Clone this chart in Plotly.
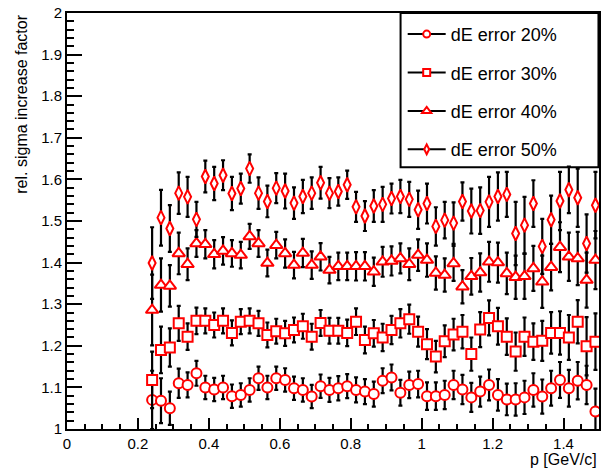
import plotly.graph_objects as go

# ---- data ----
p = [0.24, 0.265, 0.29, 0.315, 0.34, 0.365, 0.39, 0.415, 0.44, 0.465,
     0.49, 0.515, 0.54, 0.565, 0.59, 0.615, 0.64, 0.665, 0.69, 0.715,
     0.74, 0.765, 0.79, 0.815, 0.84, 0.865, 0.89, 0.915, 0.94, 0.965,
     0.99, 1.015, 1.04, 1.065, 1.09, 1.115, 1.14, 1.165, 1.19, 1.215,
     1.24, 1.265, 1.29, 1.315, 1.34, 1.365, 1.39, 1.415, 1.44, 1.465, 1.49]

err20 = [1.070, 1.068, 1.050, 1.110, 1.106, 1.134, 1.100, 1.095, 1.100, 1.079,
         1.082, 1.094, 1.122, 1.100, 1.122, 1.118, 1.098, 1.094, 1.078, 1.103,
         1.094, 1.098, 1.103, 1.094, 1.090, 1.084, 1.116, 1.124, 1.087, 1.106,
         1.108, 1.079, 1.079, 1.082, 1.106, 1.095, 1.076, 1.090, 1.106, 1.082,
         1.071, 1.071, 1.076, 1.094, 1.078, 1.098, 1.118, 1.098, 1.116, 1.106, 1.042]
err30 = [1.118, 1.190, 1.196, 1.254, 1.222, 1.260, 1.260, 1.250, 1.260, 1.231,
         1.258, 1.260, 1.254, 1.226, 1.235, 1.230, 1.238, 1.247, 1.222, 1.255,
         1.236, 1.236, 1.231, 1.258, 1.214, 1.230, 1.220, 1.238, 1.254, 1.264,
         1.234, 1.204, 1.174, 1.211, 1.227, 1.234, 1.180, 1.239, 1.267, 1.247,
         1.222, 1.186, 1.222, 1.210, 1.212, 1.231, 1.231, 1.220, 1.258, 1.199, 1.210]
err40 = [1.286, 1.346, 1.344, 1.422, 1.396, 1.446, 1.444, 1.420, 1.428, 1.422,
         1.418, 1.463, 1.446, 1.399, 1.442, 1.422, 1.394, 1.423, 1.394, 1.414,
         1.382, 1.391, 1.391, 1.391, 1.391, 1.378, 1.402, 1.404, 1.410, 1.396,
         1.418, 1.406, 1.375, 1.370, 1.398, 1.342, 1.367, 1.376, 1.402, 1.400,
         1.374, 1.365, 1.367, 1.386, 1.354, 1.389, 1.437, 1.414, 1.410, 1.358, 1.406]
err50 = [1.399, 1.508, 1.482, 1.567, 1.558, 1.504, 1.607, 1.590, 1.610, 1.566,
         1.578, 1.626, 1.567, 1.547, 1.579, 1.572, 1.543, 1.559, 1.567, 1.592,
         1.567, 1.571, 1.587, 1.534, 1.512, 1.536, 1.540, 1.554, 1.559, 1.552,
         1.527, 1.542, 1.487, 1.502, 1.495, 1.547, 1.524, 1.525, 1.546, 1.559,
         1.564, 1.470, 1.490, 1.542, 1.439, 1.503, 1.548, 1.575, 1.556, 1.446, 1.538]

unc20 = [0.070, 0.054, 0.040, 0.035, 0.030, 0.030, 0.028, 0.028, 0.028, 0.028,
         0.028, 0.028, 0.028, 0.028, 0.028, 0.028, 0.028, 0.028, 0.028, 0.028,
         0.029, 0.029, 0.029, 0.030, 0.030, 0.030, 0.030, 0.031, 0.031, 0.032,
         0.032, 0.033, 0.033, 0.034, 0.034, 0.035, 0.035, 0.036, 0.037, 0.038,
         0.038, 0.039, 0.040, 0.040, 0.041, 0.042, 0.043, 0.044, 0.045, 0.046, 0.055]
unc30 = [0.068, 0.056, 0.046, 0.042, 0.032, 0.032, 0.030, 0.030, 0.030, 0.030,
         0.030, 0.030, 0.030, 0.030, 0.030, 0.030, 0.030, 0.030, 0.031, 0.031,
         0.031, 0.031, 0.032, 0.032, 0.032, 0.032, 0.033, 0.034, 0.034, 0.035,
         0.036, 0.036, 0.038, 0.038, 0.038, 0.040, 0.040, 0.042, 0.042, 0.044,
         0.044, 0.046, 0.046, 0.044, 0.048, 0.050, 0.052, 0.054, 0.052, 0.070, 0.068]
unc40 = [0.085, 0.064, 0.050, 0.050, 0.038, 0.032, 0.034, 0.034, 0.033, 0.032,
         0.032, 0.030, 0.032, 0.032, 0.032, 0.034, 0.032, 0.034, 0.033, 0.033,
         0.032, 0.033, 0.033, 0.034, 0.034, 0.034, 0.036, 0.035, 0.036, 0.038,
         0.038, 0.040, 0.040, 0.040, 0.042, 0.040, 0.044, 0.046, 0.048, 0.048,
         0.050, 0.052, 0.054, 0.054, 0.063, 0.056, 0.060, 0.058, 0.064, 0.066, 0.070]
unc50 = [0.086, 0.067, 0.056, 0.050, 0.048, 0.042, 0.038, 0.040, 0.036, 0.040,
         0.036, 0.034, 0.038, 0.038, 0.036, 0.042, 0.038, 0.040, 0.038, 0.038,
         0.036, 0.034, 0.034, 0.036, 0.036, 0.038, 0.042, 0.036, 0.040, 0.042,
         0.046, 0.048, 0.046, 0.044, 0.050, 0.046, 0.054, 0.056, 0.060, 0.058,
         0.054, 0.076, 0.068, 0.056, 0.066, 0.058, 0.070, 0.056, 0.070, 0.070, 0.080]

labels = ["dE error 20%", "dE error 30%", "dE error 40%", "dE error 50%"]
values = [err20, err30, err40, err50]
uncert = [unc20, unc30, unc40, unc50]
symbols = ["circle", "square", "triangle-up", "diamond-tall"]
sizes = [10, 10, 11, 10]

RED = "#ff0000"
FONT = "Liberation Sans, Arial, Helvetica, sans-serif"

fig = go.Figure()

for lab, v, e, sym, sz in zip(labels, values, uncert, symbols, sizes):
    fig.add_trace(go.Scatter(
        x=p, y=v, mode="markers", showlegend=False,
        marker=dict(symbol=sym, size=sz, color="white",
                    line=dict(color=RED, width=2)),
        error_y=dict(type="data", array=e, visible=True,
                     color="black", thickness=2.2, width=2),
        hoverinfo="skip",
    ))

# legend entries (line + marker, no data drawn)
for i, (lab, sym, sz) in enumerate(zip(labels, symbols, sizes)):
    fig.add_trace(go.Scatter(
        x=[None], y=[None], mode="lines+markers", name=lab,
        legendgroup=f"g{i}",
        line=dict(color="black", width=2),
        marker=dict(symbol=sym, size=sz - 3, color="white",
                    line=dict(color=RED, width=2)),
    ))

axis_common = dict(
    showgrid=False, zeroline=False, showline=True, linecolor="black",
    linewidth=2, mirror=True, ticks="inside", tickcolor="black",
    tickwidth=2, tickfont=dict(family=FONT, size=15, color="black"),
)

fig.update_xaxes(range=[0, 1.5], dtick=0.2, tick0=0, ticklen=11,
                 minor=dict(ticks="inside", dtick=0.05, ticklen=5,
                            tickwidth=2, tickcolor="black"),
                 **axis_common)
fig.update_yaxes(range=[1, 2], dtick=0.1, tick0=1, ticklen=15,
                 minor=dict(ticks="inside", dtick=0.02, ticklen=7,
                            tickwidth=2, tickcolor="black"),
                 **axis_common)

fig.add_shape(type="rect", xref="paper", yref="paper",
              x0=0.627, x1=0.999, y0=0.629, y1=1.0,
              line=dict(color="black", width=2), fillcolor="white",
              layer="below")

fig.add_annotation(text="p [GeV/c]", xref="paper", yref="paper",
                   x=1.0, y=-0.073, xanchor="right", yanchor="middle",
                   showarrow=False,
                   font=dict(family=FONT, size=16, color="black"))
fig.add_annotation(text="rel. sigma increase factor", xref="paper",
                   yref="paper", x=-0.086, y=1.0, xanchor="center",
                   yanchor="top", textangle=-90, showarrow=False,
                   font=dict(family=FONT, size=16, color="black"))

fig.update_layout(
    width=605, height=472,
    margin=dict(l=67, r=4, t=12, b=43),
    paper_bgcolor="white", plot_bgcolor="white",
    font=dict(family=FONT, color="black"),
    legend=dict(x=0.631, y=0.993, xanchor="left", yanchor="top",
                bgcolor="rgba(0,0,0,0)", borderwidth=0,
                font=dict(family=FONT, size=18, color="black"),
                tracegroupgap=12, itemwidth=38),
)

fig.write_html("out.html",
               config={"displayModeBar": False},
               post_script="document.body.style.margin='0';"
                           "document.body.style.overflow='hidden';")
